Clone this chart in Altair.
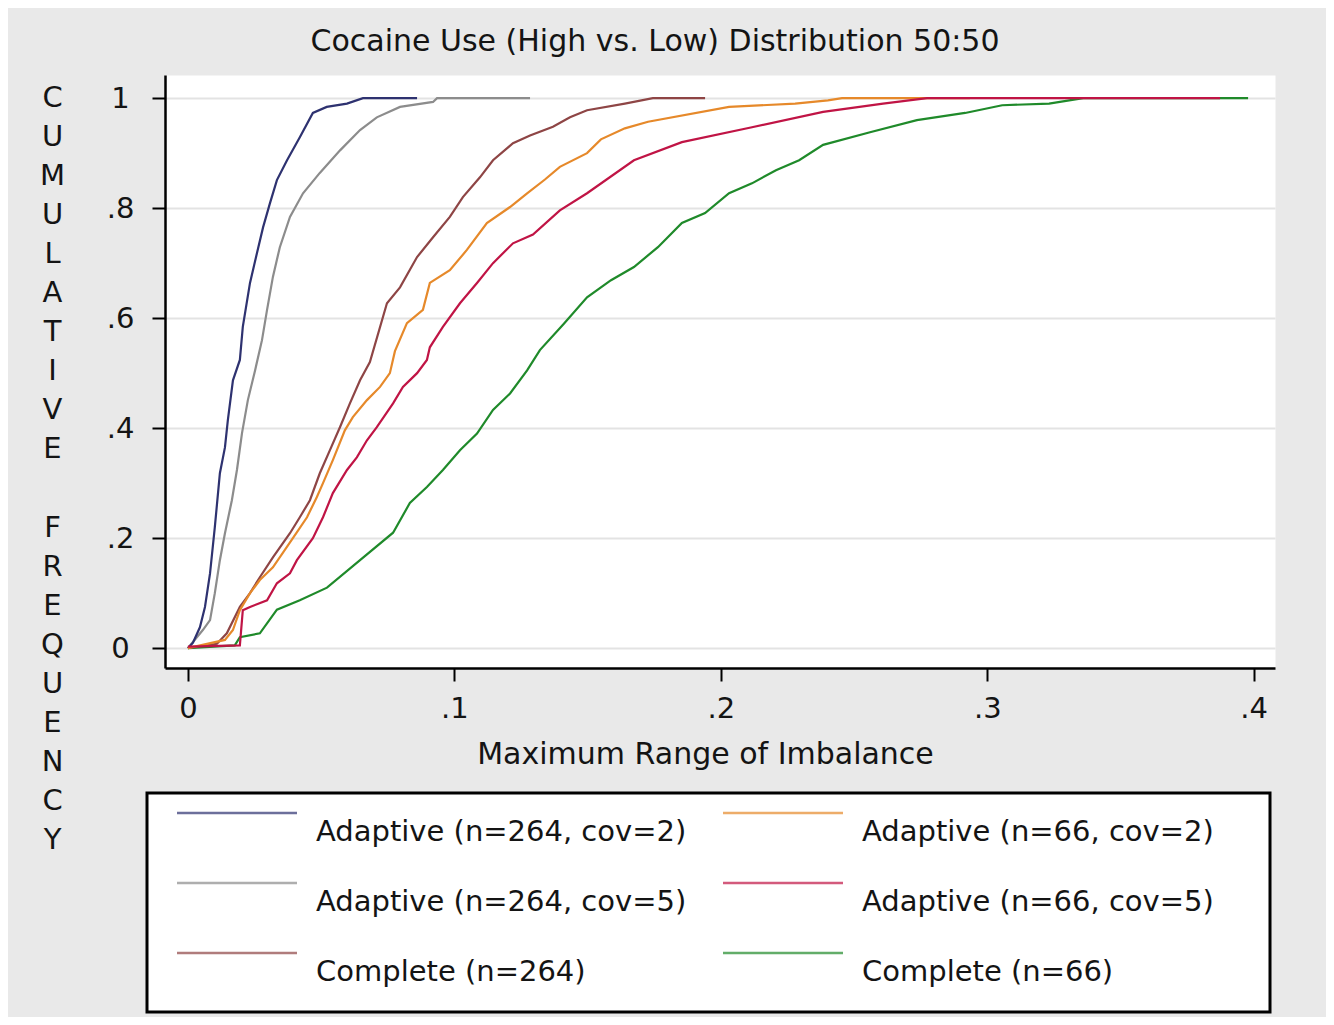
import altair as alt
import pandas as pd

FONT = "DejaVu Sans"
TEXT_COLOR = "#141414"

TITLE = "Cocaine Use (High vs. Low) Distribution 50:50"
X_TITLE = "Maximum Range of Imbalance"
Y_TITLE = "CUMULATIVE FREQUENCY"

SERIES = [
    "Adaptive (n=264, cov=2)",
    "Adaptive (n=264, cov=5)",
    "Complete (n=264)",
    "Adaptive (n=66, cov=2)",
    "Adaptive (n=66, cov=5)",
    "Complete (n=66)",
]
COLORS = ["#2e3270", "#8c8c8c", "#8e4545", "#e6892a", "#c01445", "#1f8a2a"]

X_TICKS = [0, 0.1, 0.2, 0.3, 0.4]
Y_TICKS = [0, 0.2, 0.4, 0.6, 0.8, 1]

# Adaptive (n=264, cov=2)
a264c2_x = [0, 0.0019, 0.0045, 0.0064, 0.0083, 0.0101, 0.0120, 0.0139, 0.0150, 0.0169,
            0.0195, 0.0206, 0.0233, 0.0259, 0.0282, 0.0308, 0.0334, 0.0372, 0.0420,
            0.0469, 0.0521, 0.0597, 0.0657, 0.0860]
a264c2_y = [0, 0.01, 0.038, 0.075, 0.136, 0.22, 0.318, 0.365, 0.415, 0.487,
            0.524, 0.584, 0.664, 0.718, 0.765, 0.809, 0.851, 0.887, 0.929,
            0.973, 0.984, 0.99, 1.0, 1.0]

# Adaptive (n=264, cov=5)
a264c5_x = [0, 0.0008, 0.0056, 0.0083, 0.0101, 0.0120, 0.0139, 0.0165, 0.0184, 0.0203,
            0.0225, 0.0252, 0.0278, 0.0297, 0.0319, 0.0345, 0.0383, 0.0432, 0.0495,
            0.0571, 0.0646, 0.0709, 0.0796, 0.0920, 0.0935, 0.1284]
a264c5_y = [0, 0.005, 0.033, 0.051, 0.1, 0.16, 0.209, 0.269, 0.324, 0.391,
            0.451, 0.505, 0.56, 0.615, 0.675, 0.729, 0.784, 0.827, 0.864,
            0.905, 0.942, 0.965, 0.984, 0.993, 1.0, 1.0]

# Complete (n=264)
c264_x = [0, 0.0109, 0.0146, 0.0195, 0.0233, 0.0270, 0.0319, 0.0383, 0.0420, 0.0458,
          0.0495, 0.0533, 0.0571, 0.0608, 0.0646, 0.0683, 0.0747, 0.0796, 0.0860,
          0.0920, 0.0983, 0.1032, 0.1096, 0.1145, 0.1220, 0.1284, 0.1370, 0.1434,
          0.1498, 0.1640, 0.1745, 0.1941]
c264_y = [0, 0.008, 0.027, 0.075, 0.1, 0.129, 0.165, 0.209, 0.238, 0.269,
          0.318, 0.36, 0.402, 0.445, 0.487, 0.52, 0.627, 0.656, 0.711,
          0.747, 0.784, 0.82, 0.856, 0.887, 0.918, 0.932, 0.948, 0.965,
          0.978, 0.99, 1.0, 1.0]

# Adaptive (n=66, cov=2)
a66c2_x = [0, 0.0139, 0.0169, 0.0195, 0.0233, 0.0270, 0.0319, 0.0394, 0.0447, 0.0484,
           0.0507, 0.0544, 0.0589, 0.0619, 0.0672, 0.0721, 0.0758, 0.0777, 0.0822,
           0.0882, 0.0908, 0.0983, 0.1047, 0.1122, 0.1209, 0.1273, 0.1340, 0.1396,
           0.1498, 0.1550, 0.1640, 0.1727, 0.2031, 0.2279, 0.2402, 0.2455, 0.2935]
a66c2_y = [0, 0.015, 0.033, 0.069, 0.1, 0.124, 0.147, 0.2, 0.238, 0.275,
           0.3, 0.342, 0.396, 0.42, 0.451, 0.475, 0.5, 0.54, 0.591,
           0.615, 0.664, 0.687, 0.724, 0.773, 0.802, 0.827, 0.852, 0.875,
           0.9, 0.925, 0.945, 0.957, 0.984, 0.99, 0.996, 1.0, 1.0]

# Adaptive (n=66, cov=5)
a66c5_x = [0, 0.0195, 0.0206, 0.0233, 0.0297, 0.0334, 0.0383, 0.0409, 0.0469, 0.0507,
           0.0544, 0.0597, 0.0634, 0.0672, 0.0709, 0.0770, 0.0807, 0.0860, 0.0897,
           0.0908, 0.0957, 0.1021, 0.1085, 0.1145, 0.1220, 0.1295, 0.1396, 0.1498,
           0.1674, 0.1854, 0.2117, 0.2384, 0.2609, 0.2774, 0.3874]
a66c5_y = [0.003, 0.005, 0.069, 0.075, 0.087, 0.118, 0.136, 0.16, 0.2, 0.238,
           0.282, 0.324, 0.347, 0.378, 0.402, 0.445, 0.475, 0.5, 0.524,
           0.547, 0.584, 0.627, 0.664, 0.7, 0.736, 0.752, 0.796, 0.827,
           0.887, 0.92, 0.947, 0.975, 0.99, 1.0, 1.0]

# Complete (n=66)
c66_x = [0, 0.0176, 0.0195, 0.0270, 0.0334, 0.0420, 0.0522, 0.0646, 0.0770, 0.0833,
         0.0897, 0.0957, 0.1021, 0.1085, 0.1145, 0.1209, 0.1273, 0.1321, 0.1411,
         0.1498, 0.1588, 0.1674, 0.1764, 0.1854, 0.1941, 0.2031, 0.2117, 0.2207,
         0.2294, 0.2384, 0.2560, 0.2736, 0.2917, 0.3056, 0.3232, 0.3360, 0.3979]
c66_y = [0, 0.005, 0.02, 0.027, 0.07, 0.087, 0.11, 0.16, 0.21, 0.264,
         0.293, 0.324, 0.36, 0.39, 0.433, 0.463, 0.505, 0.542, 0.59,
         0.638, 0.669, 0.693, 0.729, 0.773, 0.791, 0.827, 0.845, 0.869,
         0.887, 0.915, 0.938, 0.96, 0.973, 0.987, 0.99, 1.0, 1.0]

SERIES_X = [a264c2_x, a264c5_x, c264_x, a66c2_x, a66c5_x, c66_x]
SERIES_Y = [a264c2_y, a264c5_y, c264_y, a66c2_y, a66c5_y, c66_y]

# drawing order (last on top)
DRAW_ORDER = [5, 1, 0, 2, 3, 4]

rows = []
for i, name in enumerate(SERIES):
    for k, (xv, yv) in enumerate(zip(SERIES_X[i], SERIES_Y[i])):
        rows.append({"series": name, "x": xv, "y": yv, "k": k})
df = pd.DataFrame(rows)

label_expr = ("datum.value == 0 ? '0' : datum.value == 1 ? '1' : "
              "replace(format(datum.value, '.1f'), '0.', '.')")

# one letter per line; the gap between the two words keeps an invisible line
y_letters = [c if c != " " else "\u200b" for c in Y_TITLE]

x_enc = alt.X(
    "x:Q",
    scale=alt.Scale(domain=[-0.0086, 0.408], nice=False, zero=False),
    axis=alt.Axis(values=X_TICKS, labelExpr=label_expr, grid=False, title=X_TITLE,
                  titleX=540, titleY=95, titleBaseline="alphabetic", titleAlign="center",
                  labelPadding=13, labelFlush=False, titleFontSize=30),
)
y_enc = alt.Y(
    "y:Q",
    scale=alt.Scale(domain=[-0.036, 1.042], nice=False, zero=False),
    axis=alt.Axis(values=Y_TICKS, labelExpr=label_expr, grid=True, gridColor="#e3e3e3",
                  gridWidth=2, title=y_letters, titleAngle=0, titleAlign="center",
                  titleBaseline="alphabetic", titleX=-113, titleY=31, titleLineHeight=39.1,
                  titleFontSize=29, labelAlign="center", labelBaseline="middle",
                  labelPadding=32, labelFlush=False),
)

line_layers = []
for i in DRAW_ORDER:
    name = SERIES[i]
    line_layers.append(
        alt.Chart(df)
        .transform_filter(alt.datum.series == name)
        .mark_line(color=COLORS[i], strokeWidth=2.2)
        .encode(x=x_enc, y=y_enc, order="k:Q")
    )
main = alt.layer(*line_layers)

legend_df = pd.DataFrame({
    "series": SERIES,
    "col": [i // 3 for i in range(len(SERIES))],
    "row": [i % 3 for i in range(len(SERIES))],
})
lx = alt.X("col:Q", scale=alt.Scale(domain=[0, 1], range=[72, 618]), axis=None)
ly = alt.Y("row:Q", scale=alt.Scale(domain=[0, 2], range=[738, 878]), axis=None)
lcolor = alt.Color("series:N", scale=alt.Scale(domain=SERIES, range=COLORS), legend=None)

box = alt.Chart(pd.DataFrame({"a": [0]})).mark_rect(
    fill="white", stroke="black", strokeWidth=3
).encode(x=alt.value(-18), x2=alt.value(1105), y=alt.value(718), y2=alt.value(937))

swatches = alt.Chart(legend_df).mark_tick(
    orient="horizontal", size=120, thickness=2.5
).encode(x=lx, y=ly, color=lcolor)

labels = alt.Chart(legend_df).mark_text(
    align="left", baseline="middle", dx=79, dy=19, font=FONT, fontSize=29, color=TEXT_COLOR
).encode(x=lx, y=ly, text="series:N")

legend = alt.layer(box, swatches, labels)

chart = (
    alt.layer(main, legend)
    .resolve_scale(x="independent", y="independent", color="independent")
    .properties(
        width=1110,
        height=593,
        title=alt.TitleParams(text=TITLE, font=FONT, fontSize=30, fontWeight="normal",
                              color=TEXT_COLOR, anchor="middle", frame="group", dx=-65,
                              offset=27, dy=33, baseline="alphabetic"),
        autosize=alt.AutoSizeParams(type="none"),
        padding={"left": 157, "top": 67, "right": 51, "bottom": 349},
        background="#e9e9e9",
    )
    .configure_view(fill="white", stroke="transparent")
    .configure_axis(domainColor="black", domainWidth=2.5, tickColor="black", tickWidth=2,
                    tickSize=13, labelFont=FONT, labelFontSize=29, labelColor=TEXT_COLOR,
                    titleFont=FONT, titleColor=TEXT_COLOR, titleFontWeight="normal")
)

chart.save("out.html", embed_options={"renderer": "svg", "actions": False})
